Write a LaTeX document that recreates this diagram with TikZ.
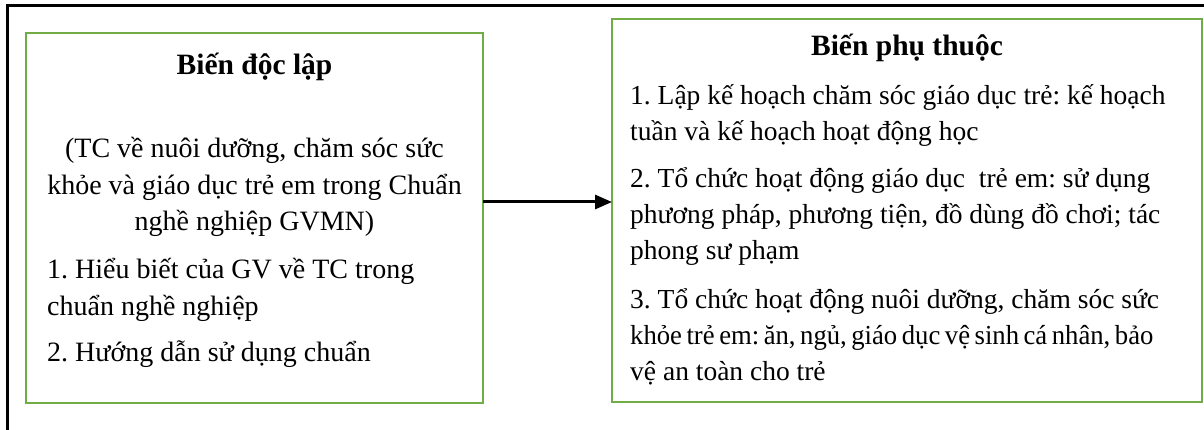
\documentclass[tikz,border=0pt]{standalone}
\usepackage{fontspec}
\setmainfont{Liberation Serif}
\usetikzlibrary{arrows.meta}
\definecolor{boxgreen}{HTML}{70AD47}
\frenchspacing
\tikzset{
  frame/.style={draw=black, line width=3pt},
  varbox/.style={draw=boxgreen, line width=2.5pt},
  title/.style={font=\fontsize{29.5}{35}\selectfont\bfseries, inner sep=0pt, anchor=base},
  cline/.style={font=\fontsize{28}{34}\selectfont, inner sep=0pt, anchor=base},
  lline/.style={font=\fontsize{28}{34}\selectfont, inner sep=0pt, anchor=base west},
  rline/.style={font=\fontsize{27.5}{34}\selectfont, inner sep=0pt, anchor=base west},
  link/.style={line width=3pt, -{Triangle[length=17pt,width=14pt]}}
}
\begin{document}
\begin{tikzpicture}[x=1pt, y=-1pt]
\useasboundingbox (0,0) rectangle (1204,430);
% outer frame (only left and top edges fall inside the page)
\draw[frame] (7,440) |- (1215,6);

% independent-variable box
\draw[varbox] (26,33) rectangle (483,403);
\coordinate (indE) at (483,202);
\node[title] (indT) at (254.5,75) {Biến độc lập};
\node[cline] (ind1) at (254.5,158) {(TC về nuôi dưỡng, chăm sóc sức};
\node[cline] (ind2) at (254.5,195) {khỏe và giáo dục trẻ em trong Chuẩn};
\node[cline] (ind3) at (254.5,231) {nghề nghiệp GVMN)};
\node[lline] (ind4) at (47,279) {1. Hiểu biết của GV về TC trong};
\node[lline] (ind5) at (47,315) {chuẩn nghề nghiệp};
\node[lline] (ind6) at (47,361) {2. Hướng dẫn sử dụng chuẩn};

% dependent-variable box
\draw[varbox] (612,19) rectangle (1202,402);
\coordinate (depW) at (612,202);
\node[title] (depT) at (907,56) {Biến phụ thuộc};
\node[rline] (dep1) at (630,105) {1. Lập kế hoạch chăm sóc giáo dục trẻ: kế hoạch};
\node[rline] (dep2) at (630,141) {tuần và kế hoạch hoạt động học};
\node[rline] (dep3) at (630,188) {2. Tổ chức hoạt động giáo dục~ trẻ em: sử dụng};
\node[rline] (dep4) at (630,224) {phương pháp, phương tiện, đồ dùng đồ chơi; tác};
\node[rline] (dep5) at (630,260) {phong sư phạm};
\node[rline] (dep6) at (630,308) {3. Tổ chức hoạt động nuôi dưỡng, chăm sóc sức};
\node[rline] (dep7) at (630,344) {\spaceskip=0.17em\relax\scalebox{0.97}[1]{khỏe trẻ em: ăn, ngủ, giáo dục vệ sinh cá nhân, bảo}};
\node[rline] (dep8) at (630,380) {vệ an toàn cho trẻ};

% influence arrow
\draw[link] (indE) -- (depW);
\end{tikzpicture}
\end{document}
